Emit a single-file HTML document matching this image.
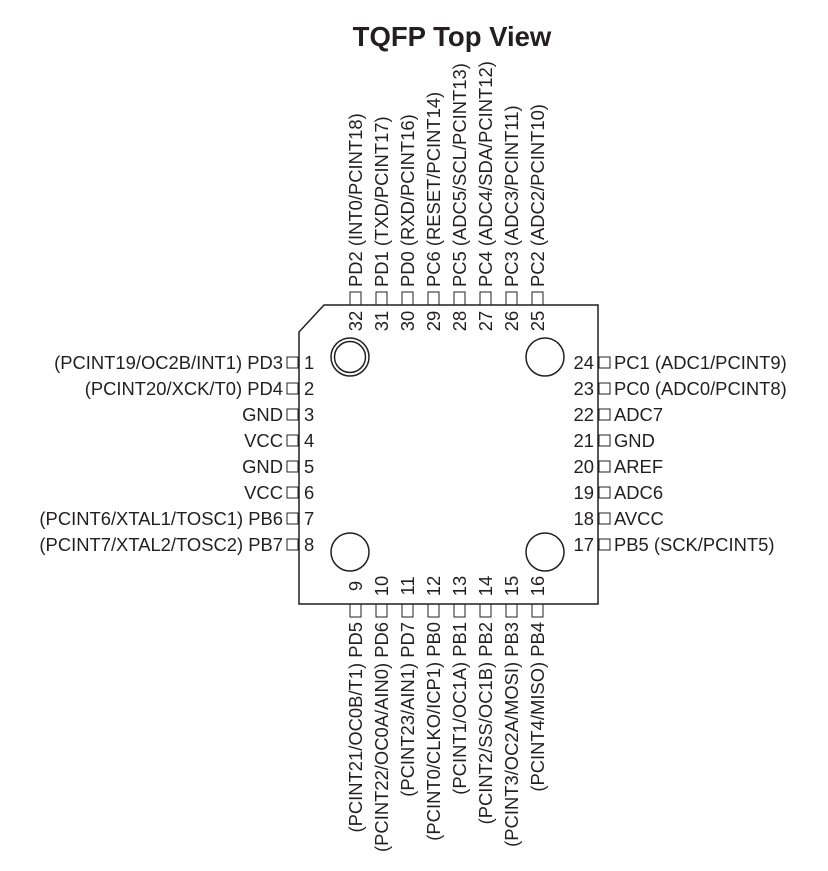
<!DOCTYPE html>
<html><head><meta charset="utf-8"><style>
html,body{margin:0;padding:0;background:#fff;}
svg{display:block;}
text{font-family:"Liberation Sans",Arial,sans-serif;font-size:18.4px;fill:#231f20;}
</style></head><body>
<svg width="828" height="871" viewBox="0 0 828 871" xmlns="http://www.w3.org/2000/svg">
<text x="452" y="46" text-anchor="middle" style="font-size:27.5px;font-weight:bold">TQFP Top View</text>
<g fill="none" stroke="#231f20" stroke-width="1.5">
<path d="M324,305 L598,305 L598,604 L299,604 L299,332 Z"/>
<circle cx="350" cy="357" r="19"/><circle cx="350" cy="357" r="15.5"/>
<circle cx="545" cy="357" r="19"/>
<circle cx="350" cy="552" r="19"/>
<circle cx="545" cy="552" r="19"/>
</g>
<g fill="none" stroke="#231f20" stroke-width="1">
<rect x="287" y="357" width="11" height="11"/><rect x="287" y="383" width="11" height="11"/>
<rect x="287" y="409" width="11" height="11"/><rect x="287" y="435" width="11" height="11"/>
<rect x="287" y="461" width="11" height="11"/><rect x="287" y="487" width="11" height="11"/>
<rect x="287" y="513" width="11" height="11"/><rect x="287" y="539" width="11" height="11"/>
<rect x="599" y="357" width="11" height="11"/><rect x="599" y="383" width="11" height="11"/>
<rect x="599" y="409" width="11" height="11"/><rect x="599" y="435" width="11" height="11"/>
<rect x="599" y="461" width="11" height="11"/><rect x="599" y="487" width="11" height="11"/>
<rect x="599" y="513" width="11" height="11"/><rect x="599" y="539" width="11" height="11"/>
<rect x="350" y="292" width="11" height="13"/><rect x="376" y="292" width="11" height="13"/>
<rect x="402" y="292" width="11" height="13"/><rect x="428" y="292" width="11" height="13"/>
<rect x="454" y="292" width="11" height="13"/><rect x="480" y="292" width="11" height="13"/>
<rect x="506" y="292" width="11" height="13"/><rect x="532" y="292" width="11" height="13"/>
<rect x="350" y="604" width="11" height="13"/><rect x="376" y="604" width="11" height="13"/>
<rect x="402" y="604" width="11" height="13"/><rect x="428" y="604" width="11" height="13"/>
<rect x="454" y="604" width="11" height="13"/><rect x="480" y="604" width="11" height="13"/>
<rect x="506" y="604" width="11" height="13"/><rect x="532" y="604" width="11" height="13"/>
</g>
<g text-anchor="end">
<text x="283" y="369">(PCINT19/OC2B/INT1) PD3</text>
<text x="283" y="395">(PCINT20/XCK/T0) PD4</text>
<text x="283" y="421">GND</text>
<text x="283" y="447">VCC</text>
<text x="283" y="473">GND</text>
<text x="283" y="499">VCC</text>
<text x="283" y="525">(PCINT6/XTAL1/TOSC1) PB6</text>
<text x="283" y="551">(PCINT7/XTAL2/TOSC2) PB7</text>
</g>
<g>
<text x="304" y="369">1</text><text x="304" y="395">2</text><text x="304" y="421">3</text><text x="304" y="447">4</text>
<text x="304" y="473">5</text><text x="304" y="499">6</text><text x="304" y="525">7</text><text x="304" y="551">8</text>
</g>
<g>
<text x="614" y="369">PC1 (ADC1/PCINT9)</text>
<text x="614" y="395">PC0 (ADC0/PCINT8)</text>
<text x="614" y="421">ADC7</text>
<text x="614" y="447">GND</text>
<text x="614" y="473">AREF</text>
<text x="614" y="499">ADC6</text>
<text x="614" y="525">AVCC</text>
<text x="614" y="551">PB5 (SCK/PCINT5)</text>
</g>
<g text-anchor="end">
<text x="594" y="369">24</text><text x="594" y="395">23</text><text x="594" y="421">22</text><text x="594" y="447">21</text>
<text x="594" y="473">20</text><text x="594" y="499">19</text><text x="594" y="525">18</text><text x="594" y="551">17</text>
</g>
<g>
<text transform="translate(362,287) rotate(-90)">PD2 (INT0/PCINT18)</text>
<text transform="translate(388,287) rotate(-90)">PD1 (TXD/PCINT17)</text>
<text transform="translate(414,287) rotate(-90)">PD0 (RXD/PCINT16)</text>
<text transform="translate(440,287) rotate(-90)">PC6 (RESET/PCINT14)</text>
<text transform="translate(466,287) rotate(-90)">PC5 (ADC5/SCL/PCINT13)</text>
<text transform="translate(492,287) rotate(-90)">PC4 (ADC4/SDA/PCINT12)</text>
<text transform="translate(518,287) rotate(-90)">PC3 (ADC3/PCINT11)</text>
<text transform="translate(544,287) rotate(-90)">PC2 (ADC2/PCINT10)</text>
</g>
<g text-anchor="middle">
<text transform="translate(362,321) rotate(-90)">32</text>
<text transform="translate(388,321) rotate(-90)">31</text>
<text transform="translate(414,321) rotate(-90)">30</text>
<text transform="translate(440,321) rotate(-90)">29</text>
<text transform="translate(466,321) rotate(-90)">28</text>
<text transform="translate(492,321) rotate(-90)">27</text>
<text transform="translate(518,321) rotate(-90)">26</text>
<text transform="translate(544,321) rotate(-90)">25</text>
<text transform="translate(362,586) rotate(-90)">9</text>
<text transform="translate(388,586) rotate(-90)">10</text>
<text transform="translate(414,586) rotate(-90)">11</text>
<text transform="translate(440,586) rotate(-90)">12</text>
<text transform="translate(466,586) rotate(-90)">13</text>
<text transform="translate(492,586) rotate(-90)">14</text>
<text transform="translate(518,586) rotate(-90)">15</text>
<text transform="translate(544,586) rotate(-90)">16</text>
</g>
<g text-anchor="end">
<text transform="translate(362,622) rotate(-90)">(PCINT21/OC0B/T1) PD5</text>
<text transform="translate(388,622) rotate(-90)">(PCINT22/OC0A/AIN0) PD6</text>
<text transform="translate(414,622) rotate(-90)">(PCINT23/AIN1) PD7</text>
<text transform="translate(440,622) rotate(-90)">(PCINT0/CLKO/ICP1) PB0</text>
<text transform="translate(466,622) rotate(-90)">(PCINT1/OC1A) PB1</text>
<text transform="translate(492,622) rotate(-90)">(PCINT2/SS/OC1B) PB2</text>
<text transform="translate(518,622) rotate(-90)">(PCINT3/OC2A/MOSI) PB3</text>
<text transform="translate(544,622) rotate(-90)">(PCINT4/MISO) PB4</text>
</g>
</svg>
</body></html>
